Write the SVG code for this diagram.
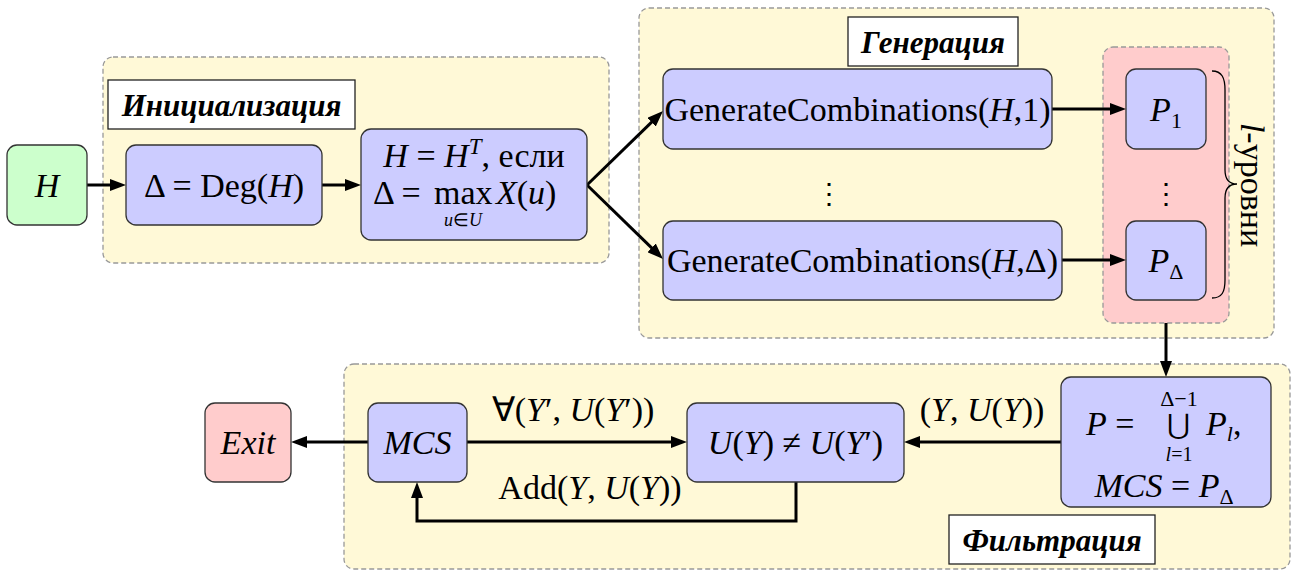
<svg xmlns="http://www.w3.org/2000/svg" width="1294" height="571" viewBox="0 0 1294 571">
<style>
.cont{fill:#fff9d7;stroke:#999;stroke-width:1.3;stroke-dasharray:5 3}
.pink{fill:#ffcccc;stroke:#999;stroke-width:1.3;stroke-dasharray:5 3}
.node{fill:#ccccff;stroke:#333;stroke-width:1.3}
.green{fill:#ccffcc;stroke:#333;stroke-width:1.3}
.red{fill:#ffcccc;stroke:#333;stroke-width:1.3}
.tbox{fill:#fff;stroke:#222;stroke-width:1.3}
.title{font-family:'Liberation Serif','Times New Roman',Times,serif;font-weight:bold;font-style:italic;font-size:31px;text-anchor:middle;fill:#000}
.t{font-family:'Liberation Serif','Times New Roman',Times,serif;font-size:34px;fill:#000}
.m{text-anchor:middle}
.i{font-style:italic}
.s{font-size:22px}
.s20{font-size:20px}
.xs{font-size:18px}
.sup{font-size:23px}
.dots{font-family:'DejaVu Serif',serif;font-size:28px;text-anchor:middle}
.edge{fill:none;stroke:#000;stroke-width:3}
</style>
<defs>
<marker id="arr" viewBox="0 0 16 12" markerWidth="16" markerHeight="12" refX="8" refY="6" markerUnits="userSpaceOnUse" orient="auto">
<path d="M0,0 L16,6 L0,12 Z" fill="#000"/>
</marker>
</defs>

<g id="containers">
<rect id="init-area" class="cont" x="103" y="57" width="506" height="206" rx="10"/>
<rect id="gen-area" class="cont" x="639" y="8" width="635" height="330" rx="10"/>
<rect id="filt-area" class="cont" x="344" y="364" width="946" height="205" rx="10"/>
<rect id="levels-area" class="pink" x="1103" y="47" width="126" height="276" rx="10"/>
</g>

<g id="title-init">
<rect class="tbox" x="108" y="80" width="247" height="49"/>
<text class="title" x="231.5" y="116">Инициализация</text>
</g>
<g id="title-gen">
<rect class="tbox" x="848" y="17" width="170" height="49"/>
<text class="title" x="933" y="53">Генерация</text>
</g>
<g id="title-filt">
<rect class="tbox" x="949" y="515" width="206" height="49"/>
<text class="title" x="1052" y="551">Фильтрация</text>
</g>

<g id="connectors">
<line class="edge" x1="87" y1="185" x2="118" y2="185" marker-end="url(#arr)"/>
<line class="edge" x1="322" y1="185" x2="353" y2="185" marker-end="url(#arr)"/>
<line class="edge" x1="587" y1="185" x2="657.3" y2="116.6" marker-end="url(#arr)"/>
<line class="edge" x1="587" y1="185" x2="657.3" y2="253.4" marker-end="url(#arr)"/>
<line class="edge" x1="1052" y1="109" x2="1118" y2="109" marker-end="url(#arr)"/>
<line class="edge" x1="1062" y1="260" x2="1118" y2="260" marker-end="url(#arr)"/>
<line class="edge" x1="1166" y1="323" x2="1166" y2="369" marker-end="url(#arr)"/>
<line class="edge" x1="1061" y1="442" x2="912" y2="442" marker-end="url(#arr)"/>
<line class="edge" x1="467" y1="442" x2="679" y2="442" marker-end="url(#arr)"/>
<line class="edge" x1="368" y1="442" x2="299" y2="442" marker-end="url(#arr)"/>
<polyline class="edge" points="796,482 796,521 417,521 417,490" marker-end="url(#arr)"/>
<text class="t m" x="573" y="421">∀(<tspan class="i">Y</tspan>′, <tspan class="i">U</tspan>(<tspan class="i">Y</tspan>′))</text>
<text class="t m" x="590" y="499">Add(<tspan class="i">Y</tspan>, <tspan class="i">U</tspan>(<tspan class="i">Y</tspan>))</text>
<text class="t m" x="982" y="421">(<tspan class="i">Y</tspan>, <tspan class="i">U</tspan>(<tspan class="i">Y</tspan>))</text>
</g>

<g id="node-H">
<rect class="green" x="7" y="145" width="80" height="80" rx="10"/>
<text class="t m i" x="47" y="197">H</text>
</g>
<g id="node-deg">
<rect class="node" x="126" y="145" width="196" height="80" rx="10"/>
<text class="t m" x="224" y="197">Δ = Deg(<tspan class="i">H</tspan>)</text>
</g>
<g id="node-transpose">
<rect class="node" x="361" y="129" width="226" height="111" rx="10"/>
<text class="t m" x="474" y="167"><tspan class="i">H</tspan> = <tspan class="i">H</tspan><tspan class="i sup" dy="-13">T</tspan><tspan dy="13">, если</tspan></text>
<text class="t" x="373" y="204">Δ = </text>
<text class="t" x="434" y="204">max</text>
<text class="t i" x="496" y="204">X<tspan font-style="normal">(</tspan>u<tspan font-style="normal">)</tspan></text>
<text class="t m i xs" x="463" y="226">u<tspan font-style="normal">∈</tspan>U</text>
</g>
<g id="node-gen1">
<rect class="node" x="663" y="69" width="389" height="80" rx="10"/>
<text class="t m" x="857.5" y="121">GenerateCombinations(<tspan class="i">H</tspan>,1)</text>
</g>
<g id="node-genD">
<rect class="node" x="663" y="221" width="399" height="79" rx="10"/>
<text class="t m" x="862.5" y="272">GenerateCombinations(<tspan class="i">H</tspan>,Δ)</text>
</g>
<text class="dots" x="829" y="203">⋮</text>
<g id="node-P1">
<rect class="node" x="1126" y="69" width="80" height="80" rx="10"/>
<text class="t m i" x="1166" y="121">P<tspan class="s" font-style="normal" dy="7">1</tspan></text>
</g>
<g id="node-PD">
<rect class="node" x="1126" y="221" width="80" height="79" rx="10"/>
<text class="t m i" x="1166" y="272">P<tspan class="s" font-style="normal" dy="7">Δ</tspan></text>
</g>
<text class="dots" x="1166" y="203">⋮</text>
<g id="levels-brace">
<path d="M1212,71 C1222,71 1225,78 1225,90 L1225,170 C1225,180 1230,184 1237,184 C1230,184 1225,188 1225,198 L1225,280 C1225,292 1222,298 1212,298" fill="none" stroke="#000" stroke-width="1.3"/>
<text class="t m" transform="translate(1252,185) rotate(90)" x="0" y="11"><tspan class="i">l</tspan>-уровни</text>
</g>

<g id="node-union">
<rect class="node" x="1061" y="377" width="210" height="130" rx="10"/>
<text class="t i" x="1086" y="435">P<tspan font-style="normal"> =</tspan></text>
<text x="1178" y="434" font-family="'DejaVu Serif',serif" font-size="28" text-anchor="middle">⋃</text>
<text class="t m s" x="1179" y="406">Δ−1</text>
<text class="t m s20 i" x="1179" y="461">l<tspan font-style="normal">=1</tspan></text>
<text class="t i" x="1206" y="435">P<tspan class="s" dy="6">l</tspan><tspan font-style="normal" dy="-6">,</tspan></text>
<text class="t m i" x="1164" y="497">MCS<tspan font-style="normal"> = </tspan>P<tspan class="s" font-style="normal" dy="7">Δ</tspan></text>
</g>
<g id="node-check">
<rect class="node" x="687" y="403" width="217" height="79" rx="10"/>
<text class="t m" x="795.5" y="454"><tspan class="i">U</tspan>(<tspan class="i">Y</tspan>) ≠ <tspan class="i">U</tspan>(<tspan class="i">Y</tspan>′)</text>
</g>
<g id="node-MCS">
<rect class="node" x="368" y="403" width="99" height="79" rx="10"/>
<text class="t m i" x="417.5" y="454">MCS</text>
</g>
<g id="node-exit">
<rect class="red" x="205" y="403" width="86" height="79" rx="10"/>
<text class="t m i" x="248" y="454">Exit</text>
</g>
</svg>
